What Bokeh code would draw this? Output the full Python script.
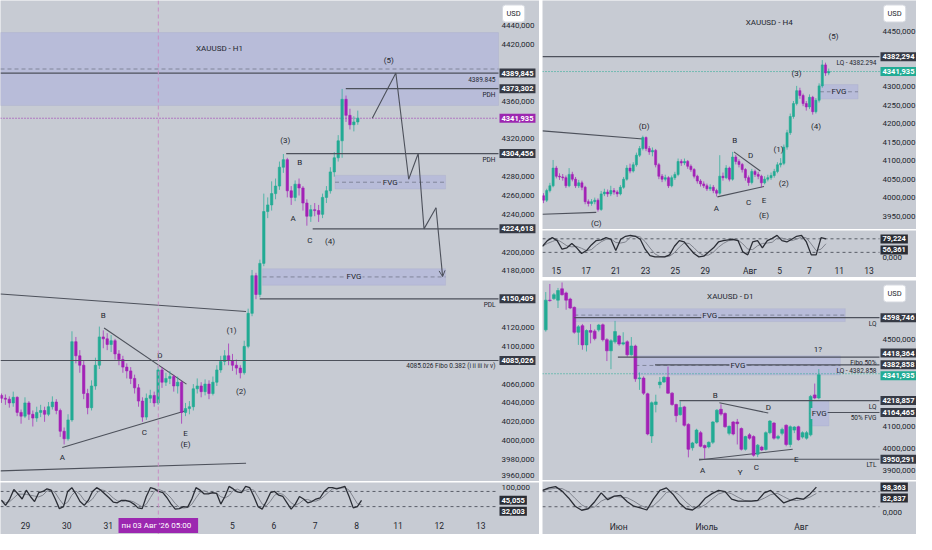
from bokeh.plotting import figure
from bokeh.models import (ColumnDataSource, Range1d, Span, BoxAnnotation, Label, Arrow, OpenHead)
from bokeh.layouts import row, column
from bokeh.embed import file_html
from bokeh.resources import INLINE

# ======================= DATA =======================
# ---- H1 panel (x = trading-day index, 0 = 29 Jul) ----
H1_BAR_START = -0.579
H1_BAR_STEP = 0.0946
H1_FIRST_OPEN = 4048
H1_CLOSE = [4045, 4044, 4040, 4046, 4030, 4026, 4040, 4028, 4024, 4030,
            4032, 4028, 4036, 4041, 4032, 4010, 4002, 4022, 4105, 4090,
            4080, 4050, 4035, 4058, 4080, 4110, 4108, 4102, 4106, 4092,
            4086, 4078, 4074, 4066, 4056, 4042, 4025, 4045, 4048, 4040,
            4075, 4062, 4066, 4068, 4058, 4062, 4030, 4034, 4036, 4055,
            4058, 4052, 4060, 4050, 4062, 4075, 4084, 4090, 4085, 4080,
            4077, 4072, 4100, 4135, 4175, 4155, 4188, 4243, 4250, 4262,
            4270, 4290, 4298, 4265, 4258, 4272, 4268, 4252, 4238, 4245,
            4244, 4240, 4258, 4265, 4285, 4300, 4318, 4362, 4345, 4335,
            4338, 4342]
H1_HIGH = [4050, 4049, 4047, 4052, 4047, 4033, 4046, 4042, 4032, 4036,
           4038, 4036, 4041, 4047, 4044, 4034, 4014, 4028, 4116, 4110,
           4096, 4085, 4055, 4064, 4088, 4121, 4117, 4114, 4112, 4108,
           4096, 4090, 4082, 4078, 4070, 4060, 4046, 4050, 4054, 4052,
           4079, 4078, 4072, 4074, 4070, 4068, 4064, 4040, 4042, 4060,
           4066, 4062, 4065, 4064, 4068, 4080, 4090, 4096, 4103, 4092,
           4086, 4080, 4106, 4140, 4181, 4178, 4192, 4262, 4258, 4275,
           4278, 4296, 4304, 4300, 4270, 4276, 4278, 4270, 4256, 4250,
           4252, 4250, 4262, 4270, 4290, 4306, 4324, 4373, 4366, 4352,
           4344, 4350]
H1_LOW = [4040, 4038, 4035, 4036, 4026, 4018, 4024, 4022, 4015, 4020,
          4025, 4020, 4026, 4033, 4028, 4004, 3996, 4000, 4020, 4082,
          4072, 4044, 4028, 4032, 4054, 4076, 4098, 4096, 4094, 4086,
          4080, 4072, 4066, 4060, 4050, 4036, 4020, 4022, 4040, 4036,
          4038, 4056, 4058, 4060, 4052, 4050, 4018, 4026, 4028, 4032,
          4050, 4046, 4048, 4044, 4048, 4058, 4072, 4080, 4080, 4074,
          4070, 4066, 4070, 4098, 4132, 4150, 4152, 4185, 4236, 4244,
          4256, 4266, 4284, 4258, 4250, 4254, 4260, 4244, 4228, 4232,
          4238, 4232, 4236, 4252, 4262, 4280, 4296, 4300, 4338, 4330,
          4328, 4335]
H1_OSC_START = -0.58
H1_OSC_STEP = 0.1
H1_STOCH_K = [45, 25, 50, 88, 70, 50, 85, 60, 40, 75,
              80, 90, 85, 50, 12, 20, 80, 95, 70, 40,
              25, 45, 80, 95, 85, 70, 55, 38, 35, 45,
              45, 40, 30, 15, 12, 60, 95, 90, 80, 75,
              55, 30, 10, 12, 20, 18, 50, 95, 85, 70,
              70, 75, 72, 30, 60, 100, 90, 78, 75, 100,
              95, 60, 20, 10, 40, 75, 80, 65, 60, 35,
              10, 30, 60, 50, 35, 40, 50, 55, 80, 95,
              95, 90, 95, 100, 60, 15, 20, 45]
H1_STOCH_LAST = [45.055, 32.003]
H1_DAY_TICKS = [0, 1, 2, 4, 5, 6, 7, 8, 9, 10, 11]
H1_DAY_LABELS = ["29", "30", "31", "4", "5", "6", "7", "8", "11", "12", "13"]
H1_PRICE_TICKS = list(range(3960, 4441, 20))
H1_LAST = 4341.935
H1_CURSOR_DAY = 3.21
H1_CURSOR_TEXT = "пн 03 Авг '26   05:00"
# (value, start day or None = full width, side text)
H1_LEVELS = [(4389.845, None, "4389.845"),
             (4373.302, 7.74, "PDH"),
             (4304.456, 6.30, "PDH"),
             (4224.618, 6.94, ""),
             (4150.409, 5.66, "PDL"),
             (4085.026, None, "4085.026 Fibo 0.382 (i ii iii iv v)")]
# (left, right, bottom, top, label)
H1_ZONES = [(None, None, 4355.5, 4432.8, ""),
            (7.48, 10.15, 4266.9, 4281.3, "FVG"),
            (5.73, 10.15, 4164.9, 4182.4, "FVG")]
H1_TRENDS = [(-0.603, 4155.6, 5.33, 4137.0),
             (-0.603, 3968.0, 5.33, 3976.0),
             (0.89, 3992.8, 3.89, 4032.0),
             (1.90, 4119.5, 3.89, 4060.0)]
H1_PATH_X = [8.38, 8.95, 9.26, 9.49, 9.63, 9.92, 10.08]
H1_PATH_Y = [4341.9, 4389.8, 4277.2, 4304.5, 4224.6, 4247.0, 4174.0]
H1_TEXTS = [("XAUUSD - H1", 4.69, 4416.3),
            ("(5)", 8.78, 4402.9), ("(3)", 6.28, 4318.4), ("B", 6.63, 4294.7),
            ("A", 6.47, 4236.0), ("C", 6.87, 4212.3), ("(4)", 7.36, 4211.2),
            ("(1)", 4.98, 4116.4), ("(2)", 5.21, 4052.6), ("B", 1.88, 4132.9),
            ("D", 3.25, 4090.7), ("C", 2.87, 4008.2), ("E", 3.87, 4007.2),
            ("(E)", 3.87, 3995.9), ("A", 0.89, 3982.5)]

# ---- H4 panel (x = trading-day index, 0 = 15 Jul) ----
H4_BAR_START = -0.852
H4_BAR_STEP = 0.2151
H4_FIRST_OPEN = 4005
H4_CLOSE = [3993, 4019, 4032, 4080, 4058, 4056, 4054, 4032, 4063, 4050,
            4032, 4040, 4028, 3989, 3984, 3989, 3993, 3968, 4010, 4015,
            4010, 4019, 4015, 4010, 4028, 4050, 4080, 4072, 4089, 4115,
            4133, 4163, 4133, 4124, 4128, 4089, 4058, 4050, 4054, 4032,
            4054, 4063, 4098, 4094, 4098, 4085, 4076, 4058, 4045, 4037,
            4032, 4024, 4028, 4019, 4012, 4058, 4054, 4080, 4050, 4110,
            4098, 4090, 4076, 4054, 4041, 4071, 4063, 4058, 4040, 4050,
            4054, 4060, 4071, 4089, 4093, 4137, 4176, 4220, 4255, 4290,
            4277, 4255, 4246, 4272, 4233, 4264, 4303, 4360, 4338, 4342]
H4_HIGH = [4012, 4024, 4040, 4102, 4086, 4066, 4064, 4060, 4080, 4070,
           4056, 4048, 4046, 4032, 3995, 3996, 4000, 3998, 4018, 4024,
           4022, 4032, 4026, 4020, 4034, 4056, 4088, 4092, 4096, 4122,
           4140, 4168, 4166, 4140, 4136, 4132, 4094, 4064, 4062, 4058,
           4060, 4070, 4106, 4104, 4106, 4102, 4090, 4080, 4062, 4050,
           4044, 4038, 4036, 4034, 4024, 4115, 4068, 4088, 4084, 4124,
           4116, 4104, 4094, 4080, 4060, 4078, 4076, 4070, 4062, 4058,
           4062, 4068, 4078, 4096, 4107, 4144, 4184, 4228, 4262, 4303,
           4298, 4282, 4262, 4280, 4276, 4270, 4310, 4373, 4366, 4350]
H4_LOW = [3985, 3988, 4014, 4028, 4052, 4048, 4046, 4026, 4028, 4044,
          4026, 4026, 4020, 3982, 3976, 3978, 3982, 3962, 3964, 4004,
          4002, 4004, 4008, 4002, 4006, 4024, 4046, 4066, 4068, 4084,
          4110, 4128, 4126, 4116, 4112, 4082, 4050, 4042, 4044, 4026,
          4028, 4048, 4058, 4086, 4088, 4078, 4070, 4052, 4038, 4030,
          4026, 4018, 4018, 4012, 4003, 4008, 4046, 4050, 4044, 4046,
          4090, 4082, 4068, 4046, 4032, 4036, 4056, 4050, 4028, 4036,
          4044, 4048, 4054, 4066, 4082, 4088, 4130, 4170, 4214, 4250,
          4268, 4248, 4236, 4240, 4225, 4228, 4258, 4298, 4330, 4332]
H4_OSC_START = -0.918
H4_OSC_STEP = 0.328
H4_STOCH_K = [47, 72, 85, 72, 34, 40, 59, 40, 15, 28,
              53, 72, 75, 85, 78, 28, 78, 91, 95, 91,
              78, 34, 6, 0, 0, 0, 9, 47, 72, 66,
              40, 15, 0, 3, 22, 40, 66, 72, 75, 78,
              72, 22, 9, 66, 72, 40, 72, 82, 95, 72,
              66, 78, 91, 95, 66, 9, 9, 85, 80]
H4_STOCH_LAST = [79.224, 56.361]
H4_DAY_TICKS = [0, 2, 4, 6, 8, 10, 13, 15, 17, 19, 21]
H4_DAY_LABELS = ["15", "17", "21", "23", "25", "29", "Авг", "5", "7", "11", "13"]
H4_PRICE_TICKS = list(range(3950, 4451, 50))
H4_LAST = 4341.935
H4_LEVELS = [(4382.294, None, "LQ - 4382.294")]
H4_ZONES = [(17.7, 20.26, 4267.5, 4306.6, "FVG")]
H4_TRENDS = [(-0.918, 4181.0, 5.84, 4159.0),
             (-0.918, 3955.0, 2.69, 3960.0),
             (10.82, 4002.0, 13.95, 4030.0),
             (11.93, 4124.0, 13.70, 4072.0)]
H4_TEXTS = [("XAUUSD - H4", 14.3, 4474.0),
            ("(D)", 5.9, 4194.0), ("(C)", 2.69, 3930.0), ("B", 11.98, 4155.0),
            ("D", 13.05, 4113.0), ("A", 10.75, 3971.0), ("C", 12.92, 3988.0),
            ("E", 13.95, 3992.0), ("(E)", 13.95, 3951.0), ("(1)", 14.93, 4131.0),
            ("(2)", 15.28, 4037.0), ("(3)", 16.13, 4336.0), ("(4)", 17.44, 4192.0),
            ("(5)", 18.62, 4437.0)]

# ---- D1 panel (x = trading-day index) ----
D1_OPEN = [4543, 4679, 4686, 4679, 4731, 4712, 4684, 4646, 4532, 4562,
           4474, 4540, 4537, 4543, 4566, 4498, 4447, 4488, 4515, 4478,
           4488, 4429, 4469, 4319, 4322, 4250, 4057, 4201, 4292, 4304,
           4326, 4253, 4201, 4154, 4190, 4110, 4003, 4025, 4072, 4013,
           4007, 4028, 4121, 4179, 4160, 4069, 4121, 4121, 4091, 3996,
           4062, 4054, 3973, 4006, 3995, 4072, 4116, 4047, 4069, 4106,
           4018, 4084, 4099, 4052, 4047, 4062, 4245, 4231]
D1_HIGH = [4716, 4753, 4712, 4735, 4760, 4718, 4690, 4650, 4565, 4570,
           4545, 4569, 4545, 4570, 4572, 4505, 4500, 4584, 4520, 4532,
           4495, 4510, 4475, 4348, 4330, 4255, 4215, 4246, 4327, 4330,
           4375, 4258, 4205, 4216, 4195, 4115, 4030, 4090, 4080, 4018,
           4032, 4125, 4180, 4202, 4165, 4105, 4125, 4135, 4096, 4058,
           4070, 4060, 4020, 4012, 4078, 4130, 4120, 4062, 4095, 4110,
           4105, 4102, 4104, 4078, 4080, 4245, 4297, 4363]
D1_LOW = [4535, 4672, 4680, 4643, 4700, 4635, 4638, 4525, 4474, 4452,
          4444, 4481, 4495, 4535, 4490, 4400, 4363, 4480, 4470, 4472,
          4420, 4425, 4305, 4268, 4245, 4060, 4025, 4165, 4275, 4300,
          4250, 4195, 4120, 4150, 4100, 3959, 3990, 4020, 4005, 3952,
          4000, 4020, 4115, 4150, 4095, 4060, 4060, 4018, 3990, 3990,
          4040, 3962, 3960, 3988, 3990, 4065, 4040, 4040, 4060, 4010,
          4005, 4070, 4035, 4045, 4040, 4055, 4225, 4225]
D1_CLOSE = [4679, 4677, 4704, 4723, 4704, 4679, 4643, 4532, 4557, 4474,
            4540, 4532, 4503, 4565, 4498, 4447, 4493, 4535, 4478, 4484,
            4429, 4469, 4319, 4323, 4253, 4066, 4209, 4213, 4304, 4326,
            4253, 4201, 4150, 4187, 4106, 3996, 4025, 4084, 4010, 4003,
            4028, 4121, 4175, 4157, 4099, 4101, 4066, 4113, 3996, 4054,
            4047, 3969, 4015, 3993, 4072, 4125, 4047, 4055, 4087, 4018,
            4099, 4098, 4040, 4072, 4072, 4238, 4231, 4337]
D1_OSC_START = -0.79
D1_OSC_STEP = 1.6
D1_STOCH_K = [85, 95, 100, 82, 55, 22, 6, 12, 40, 75,
              48, 62, 65, 40, 22, 15, 7, 50, 85, 95,
              70, 35, 12, 7, 25, 55, 72, 85, 80, 50,
              42, 42, 42, 45, 75, 85, 60, 35, 45, 54,
              50, 70, 98]
D1_STOCH_LAST = [98.363, 82.837]
D1_MONTH_TICKS = [17.9, 39.5, 62.7]
D1_MONTH_LABELS = ["Июн", "Июль", "Авг"]
D1_PRICE_TICKS = list(range(3900, 4601, 100))
D1_LAST = 4341.935
D1_LEVELS = [(4598.746, 7.0, "LQ"),
             (4418.364, 17.7, "Fibo 50%"),
             (4382.858, 26.8, "LQ - 4382.858"),
             (4218.857, 32.8, "LQ"),
             (4164.465, 65.1, "50% FVG"),
             (3950.291, 37.6, "LTL")]
D1_ZONES = [(7.0, 73.5, 4581.0, 4640.0, "FVG"),
            (22.0, 72.3, 4336.0, 4424.0, "FVG"),
            (64.7, 69.5, 4103.0, 4216.0, "FVG")]
D1_TRENDS = [(37.6, 3947.0, 60.6, 3996.0),
             (42.6, 4209.0, 54.6, 4162.0)]
D1_TEXTS = [("XAUUSD - D1", 45.3, 4694.0),
            ("1?", 66.8, 4451.0), ("B", 41.6, 4244.0), ("D", 54.6, 4187.0),
            ("A", 38.5, 3900.0), ("Y", 47.7, 3891.0), ("C", 51.7, 3913.0),
            ("E", 61.5, 3949.0)]
OSC_BANDS = [80, 20]

# ======================= STYLE =======================
FONT = "Roboto"
BG = "#c7cbd3"
TEAL = "#22ab94"
MAG = "#a321b6"
LINE = "#4d515b"
TXT = "#23262e"
ZONE = "#b8bcd9"
ZONE_EDGE = "#a4a9c9"
BOX = "#363a45"


def sma3(v):
    out = []
    for i in range(len(v)):
        w = v[max(0, i - 2):i + 1]
        out.append(sum(w) / len(w))
    return out


def price_text(v):
    return f"{v:.3f}".replace(".", ",")


def new_fig(xr, yr, w, h):
    p = figure(x_range=xr, y_range=yr, frame_width=w, frame_height=h,
               x_axis_location=None, y_axis_location=None,
               output_backend="svg", toolbar_location=None,
               min_border_left=0, min_border_top=0, min_border_right=0, min_border_bottom=0)
    p.background_fill_color = BG
    p.border_fill_color = BG
    p.outline_line_color = None
    p.grid.visible = False
    return p


def txt(p, x, y, text, size="8px", align="center", color=TXT, xu="data", yu="data",
        dy=0, bg=None, pad=0, radius=0, border=None, style="normal"):
    kw = {}
    if bg is not None:
        kw["background_fill_color"] = bg
    if border is not None:
        kw["border_line_color"] = border
    p.add_layout(Label(x=x, y=y, x_units=xu, y_units=yu, y_offset=dy, text=text,
                       text_align=align, text_baseline="middle", text_font=FONT,
                       text_font_size=size, text_color=color, text_font_style=style,
                       padding=pad, border_radius=radius, **kw))


def draw_candles(p, xs, o, h, l, c, width):
    src = ColumnDataSource(dict(
        x=xs, h=h, l=l,
        top=[max(a, b) for a, b in zip(o, c)],
        bot=[min(a, b) for a, b in zip(o, c)],
        col=[TEAL if cc >= oo else MAG for oo, cc in zip(o, c)]))
    p.segment(x0="x", y0="h", x1="x", y1="l", source=src, line_color="col",
              line_width=1, line_alpha=0.7)
    p.vbar(x="x", width=width, top="top", bottom="bot", source=src,
           fill_color="col", line_color="col", line_width=0.6)


def price_box(p, fw, value, color, dy=0, text=None):
    txt(p, fw + 1, value, text if text else price_text(value), size="7.5px", align="left",
        color="white", xu="screen", dy=dy, bg=color, pad=2, style="bold")


def visible_ticks(ticks, boxes, px_per_unit, min_px=10):
    return [t for t in ticks if all(abs(t - b) * px_per_unit >= min_px for b in boxes)]


def build_panel(x0, x1, y0, y1, oy0, oy1, fw, fh, oh, rb, xb, bars, width, levels, zones,
                trends, texts, last, last_color, ptick_list, box_dy, osc, xticks, xlabels,
                osc_ticks, top_skip):
    W = fw + rb
    xr = Range1d(x0, x0 + (x1 - x0) * W / fw)
    pm = new_fig(xr, Range1d(y0, y1), W, fh)
    scale = fh / (y1 - y0)
    # zones
    for (zl, zr, zb, zt, zlab) in zones:
        zl = x0 if zl is None else zl
        zr = x1 if zr is None else zr
        pm.add_layout(BoxAnnotation(left=zl, right=zr, bottom=zb, top=zt,
                                    fill_color=ZONE, fill_alpha=1.0, line_color=ZONE_EDGE,
                                    line_width=1, level="underlay"))
        mid = (zt + zb) / 2
        pm.segment(x0=[zl], y0=[mid], x1=[zr], y1=[mid], line_color="#80859a",
                   line_dash="4 3", line_width=1)
        if zlab:
            txt(pm, (zl + zr) / 2, mid, zlab, bg=ZONE, pad=1)
    for (a, b, c, d) in trends:
        pm.segment(x0=[a], y0=[b], x1=[c], y1=[d], line_color=LINE, line_width=1.1)
    pm.segment(x0=[x0], y0=[last], x1=[x1], y1=[last], line_color=last_color,
               line_dash="1 2", line_width=1)
    xs, o, h, l, c = bars
    draw_candles(pm, xs, o, h, l, c, width)
    for (v, lx, side) in levels:
        pm.segment(x0=[x0 if lx is None else lx], y0=[v], x1=[x1], y1=[v],
                   line_color=LINE, line_width=1.2)
        if side:
            txt(pm, fw - 3, v, side, size="6.5px", align="right", xu="screen", dy=-6)
    # price scale labels
    boxes = [v for v, _, _ in levels] + [last]
    for t in visible_ticks(ptick_list, boxes, scale):
        if (y1 - t) * scale < top_skip:
            continue
        below = (t - y0) * scale
        nudge = 6 - below if below < 6 else 0
        txt(pm, fw + 3, t, price_text(t), align="left", xu="screen", dy=nudge)
    for (v, _, _) in levels:
        price_box(pm, fw, v, BOX, box_dy.get(v, 0))
    price_box(pm, fw, last, last_color, box_dy.get(last, 0))
    for (t, x, y) in texts:
        txt(pm, x, y, t)
    txt(pm, fw + 4, fh - 13, "USD", size="7.5px", align="left", xu="screen", yu="screen",
        bg="white", pad=4, radius=3, border="#d6d9e0")

    # oscillator + time scale strip
    oscale = oh / (oy1 - oy0)
    po = new_fig(xr, Range1d(oy0 - xb / oscale, oy1), W, oh + xb)
    ostart, ostep, k, last_vals = osc
    oxs = [ostart + ostep * i for i in range(len(k))]
    for b in OSC_BANDS:
        po.segment(x0=[x0], y0=[b], x1=[x1], y1=[b], line_color="#5a5e68",
                   line_dash="3 3", line_width=1)
    po.line(oxs, sma3(k), line_color="#80848e", line_width=1)
    po.line(oxs, k, line_color="#2a2d35", line_width=1.3)
    for t in osc_ticks:
        txt(po, fw + 3, t, price_text(t), align="left", xu="screen", dy=-1)
    price_box(po, fw, last_vals[0], "#2a2d35", 0)
    price_box(po, fw, last_vals[0], "#2a2d35", -11, price_text(last_vals[1]))
    for t, lab in zip(xticks, xlabels):
        txt(po, t, xb / 2, lab, size="8.5px", yu="screen")
    return pm, po


# ======================= PANELS =======================
FW_L, FH_L, OH_L, RB_L, XB_L = 498, 481, 34, 41, 18
FW_R, RB_R = 337, 37
FH_T, OH_T, XB_T = 229, 33, 14
FH_B, OH_B, XB_B = 200, 38, 15

# H1
h1_x = [H1_BAR_START + H1_BAR_STEP * i for i in range(len(H1_CLOSE))]
h1_open = [H1_FIRST_OPEN] + H1_CLOSE[:-1]
h1_main, h1_osc = build_panel(
    -0.603, 11.43, 3956.7, 4466.8, -19.2, 115.4, FW_L, FH_L, OH_L, RB_L, XB_L,
    (h1_x, h1_open, H1_HIGH, H1_LOW, H1_CLOSE), 0.058, H1_LEVELS, H1_ZONES, H1_TRENDS,
    H1_TEXTS, H1_LAST, "#9c27b0", H1_PRICE_TICKS, {},
    (H1_OSC_START, H1_OSC_STEP, H1_STOCH_K, H1_STOCH_LAST), H1_DAY_TICKS, H1_DAY_LABELS,
    [100], 22)
h1_main.line(H1_PATH_X[:-1], H1_PATH_Y[:-1], line_color=LINE, line_width=1.1)
h1_main.add_layout(Arrow(end=OpenHead(size=6, line_color=LINE, line_width=1),
                         x_start=H1_PATH_X[-2], y_start=H1_PATH_Y[-2],
                         x_end=H1_PATH_X[-1], y_end=H1_PATH_Y[-1],
                         line_color=LINE, line_width=1.1))
for fig in (h1_main, h1_osc):
    fig.add_layout(Span(location=H1_CURSOR_DAY, dimension="height", line_color="#c98bc4",
                        line_dash="4 3", line_width=1))
txt(h1_osc, H1_CURSOR_DAY, XB_L / 2, H1_CURSOR_TEXT, size="8px", color="white",
    yu="screen", bg="#9c27b0", pad=3)

# H4
h4_x = [H4_BAR_START + H4_BAR_STEP * i for i in range(len(H4_CLOSE))]
h4_open = [H4_FIRST_OPEN] + H4_CLOSE[:-1]
h4_main, h4_osc = build_panel(
    -0.918, 21.7, 3913.5, 4534.6, -29.2, 116.7, FW_R, FH_T, OH_T, RB_R, XB_T,
    (h4_x, h4_open, H4_HIGH, H4_LOW, H4_CLOSE), 0.14, H4_LEVELS, H4_ZONES, H4_TRENDS,
    H4_TEXTS, H4_LAST, TEAL, H4_PRICE_TICKS, {},
    (H4_OSC_START, H4_OSC_STEP, H4_STOCH_K, H4_STOCH_LAST), H4_DAY_TICKS, H4_DAY_LABELS,
    [0], 24)

# D1
d1_x = list(range(len(D1_CLOSE)))
d1_main, d1_osc = build_panel(
    -0.8, 81.9, 3853, 4769, -30.8, 120.4, FW_R, FH_B, OH_B, RB_R, XB_B,
    (d1_x, D1_OPEN, D1_HIGH, D1_LOW, D1_CLOSE), 0.7, D1_LEVELS, D1_ZONES, D1_TRENDS,
    D1_TEXTS, D1_LAST, TEAL, D1_PRICE_TICKS, {4418.364: 4, 4341.935: -2},
    (D1_OSC_START, D1_OSC_STEP, D1_STOCH_K, D1_STOCH_LAST), D1_MONTH_TICKS, D1_MONTH_LABELS,
    [0], 24)

left = column(h1_main, h1_osc, spacing=1)
right = column(column(h4_main, h4_osc, spacing=1), column(d1_main, d1_osc, spacing=1), spacing=3)
layout = row(left, right, spacing=3)

with open("out.html", "w", encoding="utf-8") as f:
    f.write(file_html(layout, INLINE, "XAUUSD"))
